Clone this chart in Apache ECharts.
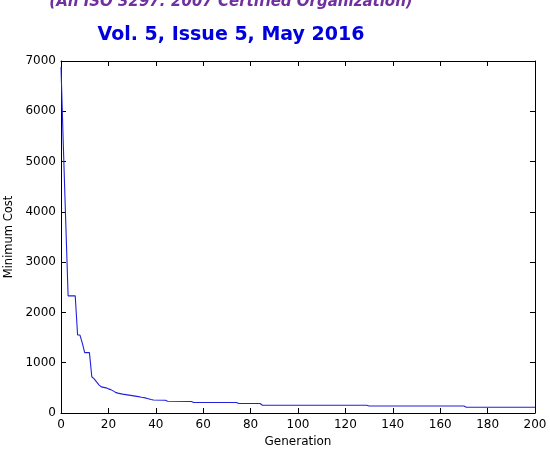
<!DOCTYPE html>
<html>
<head>
<meta charset="utf-8">
<script src="https://cdn.jsdelivr.net/npm/echarts@6/dist/echarts.min.js"></script>
<style>html,body{margin:0;padding:0;background:#fff}#c{width:550px;height:456px}</style>
</head>
<body>
<div id="c"></div>
<script>
var generations = [0, 1, 2, 3, 6, 7, 8, 9, 10, 12, 13, 14, 15, 16, 17, 18, 19, 20, 21, 22, 23, 24, 26, 28, 30, 32, 34, 36, 38, 39, 44, 45, 55, 56, 74, 75, 84, 85, 129, 130, 170, 171, 200];
var minCost =     [6880, 5300, 3800, 2330, 2330, 1550, 1550, 1390, 1200, 1200, 720, 680, 620, 560, 520, 510, 500, 480, 465, 440, 410, 395, 375, 360, 345, 330, 312, 295, 270, 258, 255, 235, 230, 210, 210, 190, 190, 155, 155, 140, 140, 115, 115];
var xTicks = {min: 0, max: 200, interval: 20};
var yTicks = {min: 0, max: 7000, interval: 1000};
var headerLine1 = '(An ISO 3297: 2007 Certified Organization)';
var headerLine2 = 'Vol. 5, Issue 5, May 2016';
var xName = 'Generation';
var yName = 'Minimum Cost';

var points = generations.map(function (g, i) { return [g, minCost[i]]; });
var FONT = 'DejaVu Sans';
var axisLine = {show: true, onZero: false, lineStyle: {color: '#000', width: 1}};
var tickIn = {show: true, inside: true, length: 5, lineStyle: {color: '#000', width: 1}};
var plain = function (v) { return String(v); };

var chart = echarts.init(document.getElementById('c'), null, {renderer: 'canvas'});
chart.setOption({
  animation: false,
  backgroundColor: '#fff',
  grid: {left: 61, right: 15, top: 61, bottom: 43, containLabel: false, outerBoundsMode: 'none'},
  graphic: [
    {type: 'text', position: [231, 2.5], z: 10,
     style: {text: headerLine1, fill: '#7030a0', font: 'italic bold 15px "DejaVu Sans"', textAlign: 'center', textVerticalAlign: 'middle'}},
    {type: 'text', position: [231, 35], z: 10,
     style: {text: headerLine2, fill: '#0000dd', font: 'bold 19px "DejaVu Sans"', textAlign: 'center', textVerticalAlign: 'middle'}}
  ],
  xAxis: [
    {type: 'value', position: 'bottom', min: xTicks.min, max: xTicks.max, interval: xTicks.interval,
     name: xName, nameLocation: 'middle', nameGap: 22,
     nameTextStyle: {color: '#000', fontFamily: FONT, fontSize: 12},
     axisLine: axisLine, axisTick: tickIn, splitLine: {show: false},
     axisLabel: {color: '#000', fontFamily: FONT, fontSize: 12, margin: 6, formatter: plain}},
    {type: 'value', position: 'top', min: xTicks.min, max: xTicks.max, interval: xTicks.interval,
     axisLine: axisLine, axisTick: tickIn, splitLine: {show: false}, axisLabel: {show: false}}
  ],
  yAxis: [
    {type: 'value', position: 'left', min: yTicks.min, max: yTicks.max, interval: yTicks.interval,
     name: yName, nameLocation: 'middle', nameGap: 45,
     nameTextStyle: {color: '#000', fontFamily: FONT, fontSize: 11.5},
     axisLine: axisLine, axisTick: tickIn, splitLine: {show: false},
     axisLabel: {color: '#000', fontFamily: FONT, fontSize: 12, margin: 5, formatter: plain}},
    {type: 'value', position: 'right', min: yTicks.min, max: yTicks.max, interval: yTicks.interval,
     axisLine: axisLine, axisTick: tickIn, splitLine: {show: false}, axisLabel: {show: false}}
  ],
  series: [{
    type: 'line', xAxisIndex: 0, yAxisIndex: 0, data: points, showSymbol: false, symbol: 'none',
    lineStyle: {color: '#2020dd', width: 1.1}, z: 5
  }]
});
</script>
</body>
</html>
